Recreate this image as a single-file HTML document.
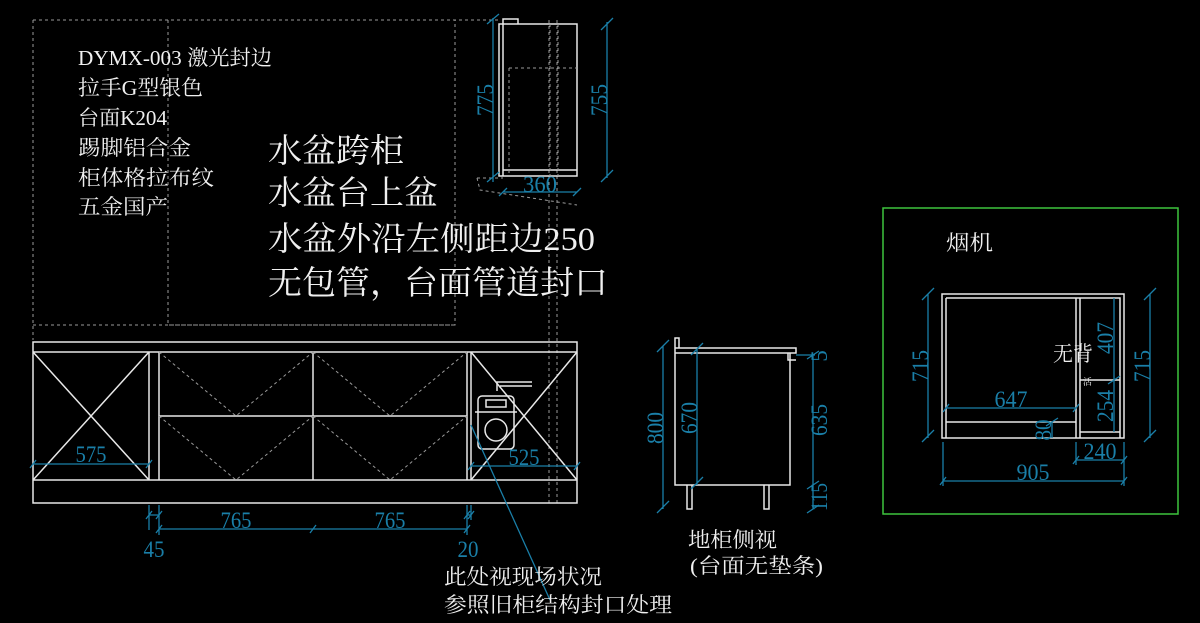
<!DOCTYPE html>
<html><head><meta charset="utf-8"><style>
html,body{margin:0;padding:0;background:#000;width:1200px;height:623px;overflow:hidden}
svg{display:block}
.w{fill:none;stroke:#e8e8e8;stroke-width:1.5}
.d{fill:none;stroke:#9a9a9a;stroke-width:1;stroke-dasharray:3,3}
.b{fill:none;stroke:#1a7fa8;stroke-width:1.3}
.t{font-family:"Liberation Serif","Noto Serif CJK SC","Noto Sans CJK SC",serif;fill:#f0f0f0}
.n{font-family:"Liberation Serif",serif;fill:#1a7fa8;font-size:23px}
</style></head><body>
<svg width="1200" height="623" viewBox="0 0 1200 623" xmlns="http://www.w3.org/2000/svg">
<path class="d" d="M33 20H500M33 20V340M33 325H455V20M168 20V325H455M549 20V503M557 20V503"/>
<g class="t" font-size="21" lengthAdjust="spacingAndGlyphs">
<text x="78" y="65" textLength="194" lengthAdjust="spacingAndGlyphs">DYMX-003 激光封边</text>
<text x="78" y="95" textLength="125" lengthAdjust="spacingAndGlyphs">拉手G型银色</text>
<text x="78" y="125" textLength="89" lengthAdjust="spacingAndGlyphs">台面K204</text>
<text x="78" y="155" textLength="113" lengthAdjust="spacingAndGlyphs">踢脚铝合金</text>
<text x="78" y="185" textLength="136" lengthAdjust="spacingAndGlyphs">柜体格拉布纹</text>
<text x="78" y="214" textLength="90" lengthAdjust="spacingAndGlyphs">五金国产</text>
</g>
<g class="t" font-size="33">
<text x="268" y="162" textLength="136" lengthAdjust="spacingAndGlyphs">水盆跨柜</text>
<text x="268" y="204" textLength="170" lengthAdjust="spacingAndGlyphs">水盆台上盆</text>
<text x="268" y="250" textLength="327" lengthAdjust="spacingAndGlyphs">水盆外沿左侧距边250</text>
<text x="268" y="294" textLength="340" lengthAdjust="spacingAndGlyphs">无包管，台面管道封口</text>
</g>
<path class="w" d="M499 24H577V176H499ZM503 24V176M503 170H577M503 24V19H518V24"/>
<path class="d" d="M509 68H577M509 68V176M550 24V176M558 24V176M477 178H503M477 178L480 190L577 205"/>
<path class="b" d="M493 18V182M487 24L499 14M487 182L499 172M607 22V178M601 30L613 18M601 182L613 170M503 192H577M499 196L507 188M573 196L581 188"/>
<text class="n" transform="translate(493 100) rotate(-90)" text-anchor="middle" textLength="32" lengthAdjust="spacingAndGlyphs">775</text>
<text class="n" transform="translate(607 100) rotate(-90)" text-anchor="middle" textLength="32" lengthAdjust="spacingAndGlyphs">755</text>
<text class="n" x="540" y="192" text-anchor="middle" textLength="34" lengthAdjust="spacingAndGlyphs">360</text>
<path class="w" d="M33 342H577V503H33ZM33 352H577M33 480H577M149 352V480M159 352V480M313 352V480M467 352V480M471 352V480M159 416H467"/>
<path class="w" stroke-width="1" d="M33 352L149 480M149 352L33 480M471 352L577 480M577 352L471 480"/>
<path class="d" d="M159 352L236 416L313 352M313 352L390 416L467 352M159 416L236 480L313 416M313 416L390 480L467 416"/>
<g class="w" stroke-width="1.2">
<path d="M497 391V382H532M500 386H532"/>
<rect x="478" y="396" width="36" height="53" rx="4"/>
<rect x="486" y="400" width="20" height="7"/>
<path d="M475 412H517"/>
<circle cx="496" cy="430" r="11"/>
</g>
<path class="b" d="M33 464H149M30 468L36 460M146 468L152 460M471 466H577M468 470L474 462M574 470L580 462M159 529H467M156 533L162 525M310 533L316 525M464 533L470 525M149 515H159M146 519L152 511M156 519L162 511M467 515H471M464 519L470 511M468 519L474 511M149 505V530M159 505V535M467 505V535M471 505V520M471 425L550 600"/>
<text class="n" x="91" y="462" text-anchor="middle" textLength="31" lengthAdjust="spacingAndGlyphs">575</text>
<text class="n" x="524" y="465" text-anchor="middle" textLength="31" lengthAdjust="spacingAndGlyphs">525</text>
<text class="n" x="236" y="528" text-anchor="middle" textLength="31" lengthAdjust="spacingAndGlyphs">765</text>
<text class="n" x="390" y="528" text-anchor="middle" textLength="31" lengthAdjust="spacingAndGlyphs">765</text>
<text class="n" x="154" y="557" text-anchor="middle" textLength="21" lengthAdjust="spacingAndGlyphs">45</text>
<text class="n" x="468" y="557" text-anchor="middle" textLength="21" lengthAdjust="spacingAndGlyphs">20</text>
<g class="t" font-size="21">
<text x="444" y="584" textLength="158" lengthAdjust="spacingAndGlyphs">此处视现场状况</text>
<text x="444" y="612" textLength="228" lengthAdjust="spacingAndGlyphs">参照旧柜结构封口处理</text>
</g>
<path class="w" d="M675 348H796V353H675ZM675 353V485H790V353M675 348V338H679V348M687 485V509H692V485M764 485V509H769V485M788 353V360H796"/>
<path class="b" d="M663 346V509M657 352L669 340M657 513L669 501M697 349V485M691 355L703 343M691 489L703 477M813 355V485M807 359L819 351M807 489L819 481M813 485V509M807 513L819 505M796 355H815"/>
<text class="n" transform="translate(663 428) rotate(-90)" text-anchor="middle" textLength="32" lengthAdjust="spacingAndGlyphs">800</text>
<text class="n" transform="translate(697 418) rotate(-90)" text-anchor="middle" textLength="32" lengthAdjust="spacingAndGlyphs">670</text>
<text class="n" transform="translate(827 420) rotate(-90)" text-anchor="middle" textLength="32" lengthAdjust="spacingAndGlyphs">635</text>
<text class="n" transform="translate(827 497) rotate(-90)" text-anchor="middle" textLength="28" lengthAdjust="spacingAndGlyphs">115</text>
<text class="n" transform="translate(827 356) rotate(-90)" text-anchor="middle">5</text>
<g class="t" font-size="21">
<text x="688" y="547" textLength="89" lengthAdjust="spacingAndGlyphs">地柜侧视</text>
<text x="690" y="573" textLength="133" lengthAdjust="spacingAndGlyphs">(台面无垫条)</text>
</g>
<rect x="883" y="208" width="295" height="306" fill="none" stroke="#3ec43e" stroke-width="1.5"/>
<text class="t" x="946" y="250" font-size="21" textLength="47" lengthAdjust="spacingAndGlyphs">烟机</text>
<path class="w" d="M942 294H1124V438H942ZM946 298H1120V438M946 298V438M1076 298V438M1080 298V438M946 422H1076M1080 380H1120M1080 432H1120"/>
<path class="b" d="M928 294V438M922 300L934 288M922 442L934 430M1150 294V438M1144 300L1156 288M1144 442L1156 430M946 408H1076M943 412L949 404M1073 412L1079 404M1114 298V380M1114 380V432M1108 384L1120 376M1052 422V438M1046 426L1058 418M1076 460H1124M1073 464L1079 456M1121 464L1127 456M943 481H1124M940 485L946 477M1121 485L1127 477M1076 442V465M1124 442V486M943 442V486"/>
<text class="n" transform="translate(928 366) rotate(-90)" text-anchor="middle" textLength="32" lengthAdjust="spacingAndGlyphs">715</text>
<text class="n" transform="translate(1150 366) rotate(-90)" text-anchor="middle" textLength="32" lengthAdjust="spacingAndGlyphs">715</text>
<text class="n" transform="translate(1113 338) rotate(-90)" text-anchor="middle" textLength="32" lengthAdjust="spacingAndGlyphs">407</text>
<text class="n" transform="translate(1113 406) rotate(-90)" text-anchor="middle" textLength="32" lengthAdjust="spacingAndGlyphs">254</text>
<text class="n" transform="translate(1051 430) rotate(-90)" text-anchor="middle" textLength="21" lengthAdjust="spacingAndGlyphs">80</text>
<text class="n" x="1011" y="407" text-anchor="middle" textLength="33" lengthAdjust="spacingAndGlyphs">647</text>
<text class="n" x="1100" y="459" text-anchor="middle" textLength="33" lengthAdjust="spacingAndGlyphs">240</text>
<text class="n" x="1033" y="480" text-anchor="middle" textLength="33" lengthAdjust="spacingAndGlyphs">905</text>
<text class="t" x="1053" y="361" font-size="21" textLength="40" lengthAdjust="spacingAndGlyphs">无背</text>
<text class="t" x="1083" y="385" font-size="9">活</text>
</svg>
</body></html>
